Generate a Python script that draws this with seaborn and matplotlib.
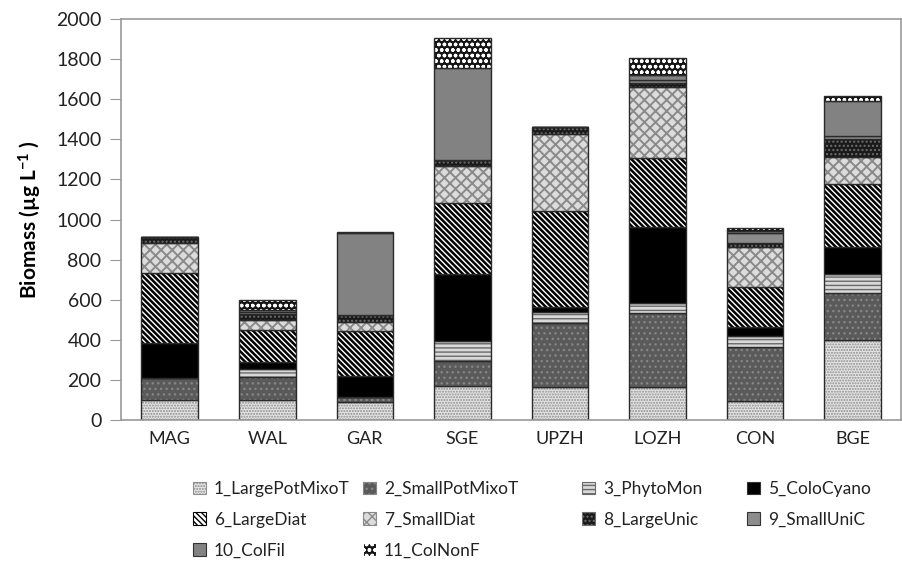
import numpy as np
import matplotlib
matplotlib.use("Agg")
import matplotlib.pyplot as plt
from matplotlib.patches import Patch
import seaborn as sns

# Sites along the x axis
sites = ["MAG", "WAL", "GAR", "SGE", "UPZH", "LOZH", "CON", "BGE"]

# Functional groups (stacking order, bottom to top)
groups = ["1_LargePotMixoT", "2_SmallPotMixoT", "3_PhytoMon", "5_ColoCyano",
          "6_LargeDiat", "7_SmallDiat", "8_LargeUnic", "9_SmallUniC",
          "10_ColFil", "11_ColNonF"]

# Biomass per group and site (µg/L)
large_pot_mixot = [100, 100, 91, 170, 166, 163, 95, 399]
small_pot_mixot = [111, 116, 21, 126, 319, 369, 271, 236]
phyto_mon       = [0, 37, 0, 100, 55, 50, 53, 93]
colo_cyano      = [171, 38, 107, 332, 25, 382, 43, 133]
large_diat      = [349, 158, 225, 353, 479, 341, 200, 314]
small_diat      = [153, 50, 43, 186, 382, 354, 202, 135]
large_unic      = [30, 30, 37, 30, 34, 23, 20, 92]
small_unic      = [0, 10, 0, 0, 0, 14, 49, 16]
col_fil         = [0, 12, 407, 457, 0, 25, 12, 174]
col_non_f       = [0, 49, 9, 150, 0, 83, 14, 25]

series = [large_pot_mixot, small_pot_mixot, phyto_mon, colo_cyano, large_diat,
          small_diat, large_unic, small_unic, col_fil, col_non_f]

y_ticks = [0, 200, 400, 600, 800, 1000, 1200, 1400, 1600, 1800, 2000]

# (face colour, hatch, hatch colour, hatch line width) for each group
styles = [
    ("#e4e4e4", "......", "#8f8f8f", 1.0),
    ("#5a5a5a", "...", "#858585", 1.0),
    ("#d9d9d9", "----", "#6a6a6a", 1.0),
    ("#000000", "", "#000000", 1.0),
    ("#ffffff", "\\\\\\\\\\\\", "#000000", 1.8),
    ("#dcdcdc", "xxx", "#8a8a8a", 1.4),
    ("#1a1a1a", "....", "#6e6e6e", 1.0),
    ("#8c8c8c", "", "#8c8c8c", 1.0),
    ("#828282", "", "#828282", 1.0),
    ("#151515", "ooo", "#ffffff", 1.0),
]

plt.rcParams["font.family"] = ["Lato", "DejaVu Sans"]
plt.rcParams["mathtext.default"] = "regular"

fig = plt.figure(figsize=(9.03, 5.80), dpi=100)
ax = fig.add_axes([0.134, 0.276, 0.864, 0.691])

bottom = np.zeros(len(sites))
for vals, (fc, hatch, hc, hlw) in zip(series, styles):
    vals = np.asarray(vals, dtype=float)
    with plt.rc_context({"hatch.linewidth": hlw}):
        # filled, hatched segment
        sns.barplot(x=sites, y=vals, order=sites, bottom=bottom, width=0.58,
                    errorbar=None, color="black", saturation=1,
                    facecolor=fc, edgecolor=hc, hatch=hatch,
                    linewidth=0, ax=ax)
    # dark outline of the segment
    sns.barplot(x=sites, y=vals, order=sites, bottom=bottom, width=0.58,
                errorbar=None, color="black", saturation=1,
                facecolor="none", edgecolor="#2a2a2a",
                linewidth=1.0, ax=ax)
    bottom = bottom + vals

ax.set_ylim(0, 2000)
ax.set_yticks(y_ticks)
ax.set_yticklabels([str(t) for t in y_ticks])
ax.set_xlim(-0.5, len(sites) - 0.5)
ax.set_xlabel("")
ax.set_ylabel("Biomass (µg L$^{-1}$ )", fontsize=15, fontweight="bold",
              labelpad=9)

for s in ax.spines.values():
    s.set_color("#9a9a9a")
    s.set_linewidth(1.2)
ax.tick_params(axis="y", length=8, color="#9a9a9a", labelsize=14,
               labelcolor="#222222", pad=6)
ax.tick_params(axis="x", length=0, labelsize=13, labelcolor="#222222", pad=8)

# Legend laid out in four columns
columns = [[0, 4, 8], [1, 5, 9], [2, 6], [3, 7]]
col_x = [193, 363, 582, 747]
for idx, cx in zip(columns, col_x):
    handles = [Patch(facecolor=styles[i][0],
                     edgecolor=styles[i][2] if styles[i][1] else "#333333",
                     hatch=styles[i][1], linewidth=0.8) for i in idx]
    labels = [groups[i] for i in idx]
    leg = fig.legend(handles, labels, loc="upper left",
                     bbox_to_anchor=(cx / 903, 1 - 481 / 580),
                     frameon=False, fontsize=12.5, handlelength=0.75,
                     handleheight=0.75, handletextpad=0.45, labelspacing=0.85,
                     borderaxespad=0, borderpad=0)
    for t in leg.get_texts():
        t.set_color("#222222")

fig.savefig("out.png", dpi=100)
